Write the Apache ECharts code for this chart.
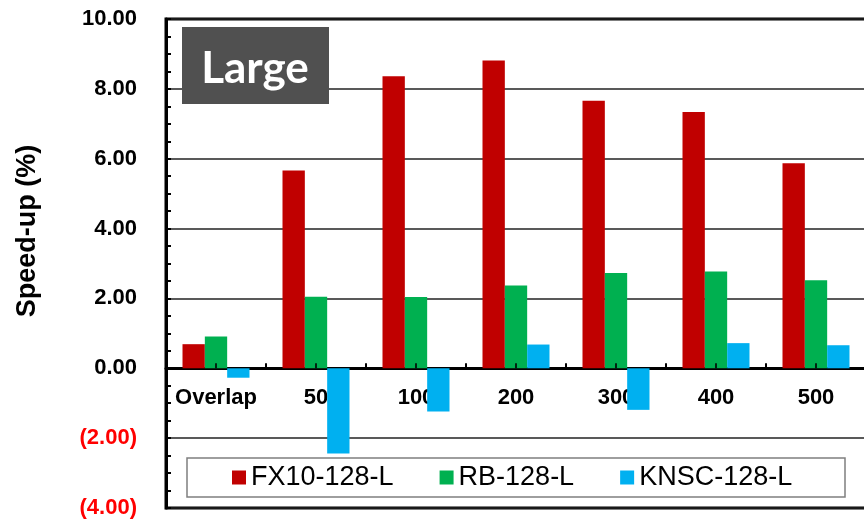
<!DOCTYPE html>
<html>
<head>
<meta charset="utf-8">
<title>Speed-up (Large)</title>
<script src="https://cdn.jsdelivr.net/npm/echarts@6/dist/echarts.min.js"></script>
<style>
  html, body { margin: 0; padding: 0; background: #fff; }
  #chart { width: 864px; height: 522px; }
</style>
</head>
<body>
<div id="chart"></div>
<script>
// Overlap sizes on the category axis
const categories = ['Overlap', '50', '100', '200', '300', '400', '500'];

// Speed-up (%) per configuration
const fx10 = [0.69, 5.66, 8.36, 8.81, 7.66, 7.34, 5.87];
const rb   = [0.91, 2.05, 2.04, 2.37, 2.73, 2.77, 2.52];
const knsc = [-0.27, -2.44, -1.24, 0.68, -1.19, 0.72, 0.66];

const seriesNames = ['FX10-128-L', 'RB-128-L', 'KNSC-128-L'];

// Value-axis tick labels
const yTicks = [-4, -2, 0, 2, 4, 6, 8, 10];

const FONT = '"Liberation Sans", Arial, sans-serif';
const colors = ['#C00000', '#00B050', '#00B0F0'];

const chart = echarts.init(document.getElementById('chart'), null, { renderer: 'canvas' });

const barSeries = [fx10, rb, knsc].map((vals, i) => ({
  name: seriesNames[i],
  type: 'bar',
  data: vals,
  barGap: '0%',
  barCategoryGap: '33%',
  itemStyle: { color: colors[i] },
  emphasis: { disabled: true }
}));

// small upward ticks on the zero line at the middle of each category
const midTicks = {
  type: 'scatter',
  data: categories.map(c => [c, 0]),
  symbol: 'rect',
  symbolSize: [2, 5],
  symbolOffset: [0, -2.5],
  itemStyle: { color: '#000' },
  silent: true,
  z: 5,
  emphasis: { disabled: true }
};

chart.setOption({
  animation: false,
  grid: {
    left: 166, top: 19, width: 700, height: 489,
    outerBoundsMode: 'none',
    show: true, borderColor: '#000', borderWidth: 3
  },
  xAxis: {
    type: 'category',
    data: categories,
    axisLine: { show: true, onZero: true, lineStyle: { color: '#000', width: 3 } },
    axisTick: { show: true, inside: true, length: 5, interval: 0, lineStyle: { color: '#000', width: 2 } },
    axisLabel: {
      // labels sit just under the zero line, inside the plot
      interval: 0, margin: -121,
      fontFamily: FONT, fontWeight: 'bold', fontSize: 22, color: '#000'
    },
    splitLine: { show: false }
  },
  yAxis: {
    type: 'value',
    min: yTicks[0],
    max: yTicks[yTicks.length - 1],
    interval: yTicks[1] - yTicks[0],
    axisLine: { show: true, lineStyle: { color: '#000', width: 3 } },
    axisTick: { show: true, inside: true, length: 5, lineStyle: { color: '#000', width: 2 } },
    minorTick: { show: true, splitNumber: 4, length: 5, lineStyle: { color: '#000', width: 2 } },
    splitLine: { show: true, lineStyle: { color: '#222', width: 1.5 } },
    axisLabel: {
      margin: 29,
      fontFamily: FONT, fontWeight: 'bold', fontSize: 22, color: '#000',
      formatter: v => v < 0 ? '{neg|(' + Math.abs(v).toFixed(2) + ')}' : v.toFixed(2),
      rich: {
        neg: { fontFamily: FONT, fontWeight: 'bold', fontSize: 22, color: '#FF0000' }
      }
    }
  },
  legend: {
    data: seriesNames,
    left: 232, top: 464,
    padding: 0,
    itemGap: 46,
    itemWidth: 14, itemHeight: 14,
    icon: 'rect',
    selectedMode: false,
    textStyle: { fontFamily: FONT, fontSize: 27, color: '#000' }
  },
  graphic: [
    {
      type: 'rect',
      z: 3,
      shape: { x: 187, y: 458, width: 658, height: 39 },
      style: { fill: '#fff', stroke: '#7f7f7f', lineWidth: 1.5 }
    },
    {
      type: 'rect',
      z: 3,
      shape: { x: 182, y: 27, width: 147, height: 77 },
      style: { fill: '#505050' }
    },
    {
      type: 'text',
      z: 4,
      x: 255, y: 69,
      style: {
        text: 'Large',
        fill: '#fff',
        font: 'bold 44px Lato, "Open Sans", sans-serif',
        textAlign: 'center',
        textVerticalAlign: 'middle'
      }
    },
    {
      type: 'text',
      z: 4,
      x: 28, y: 231,
      rotation: Math.PI / 2,
      style: {
        text: 'Speed-up (%)',
        fill: '#000',
        font: 'bold 27px "Liberation Sans", Arial, sans-serif',
        textAlign: 'center',
        textVerticalAlign: 'middle'
      }
    }
  ],
  series: barSeries.concat([midTicks])
});
</script>
</body>
</html>
